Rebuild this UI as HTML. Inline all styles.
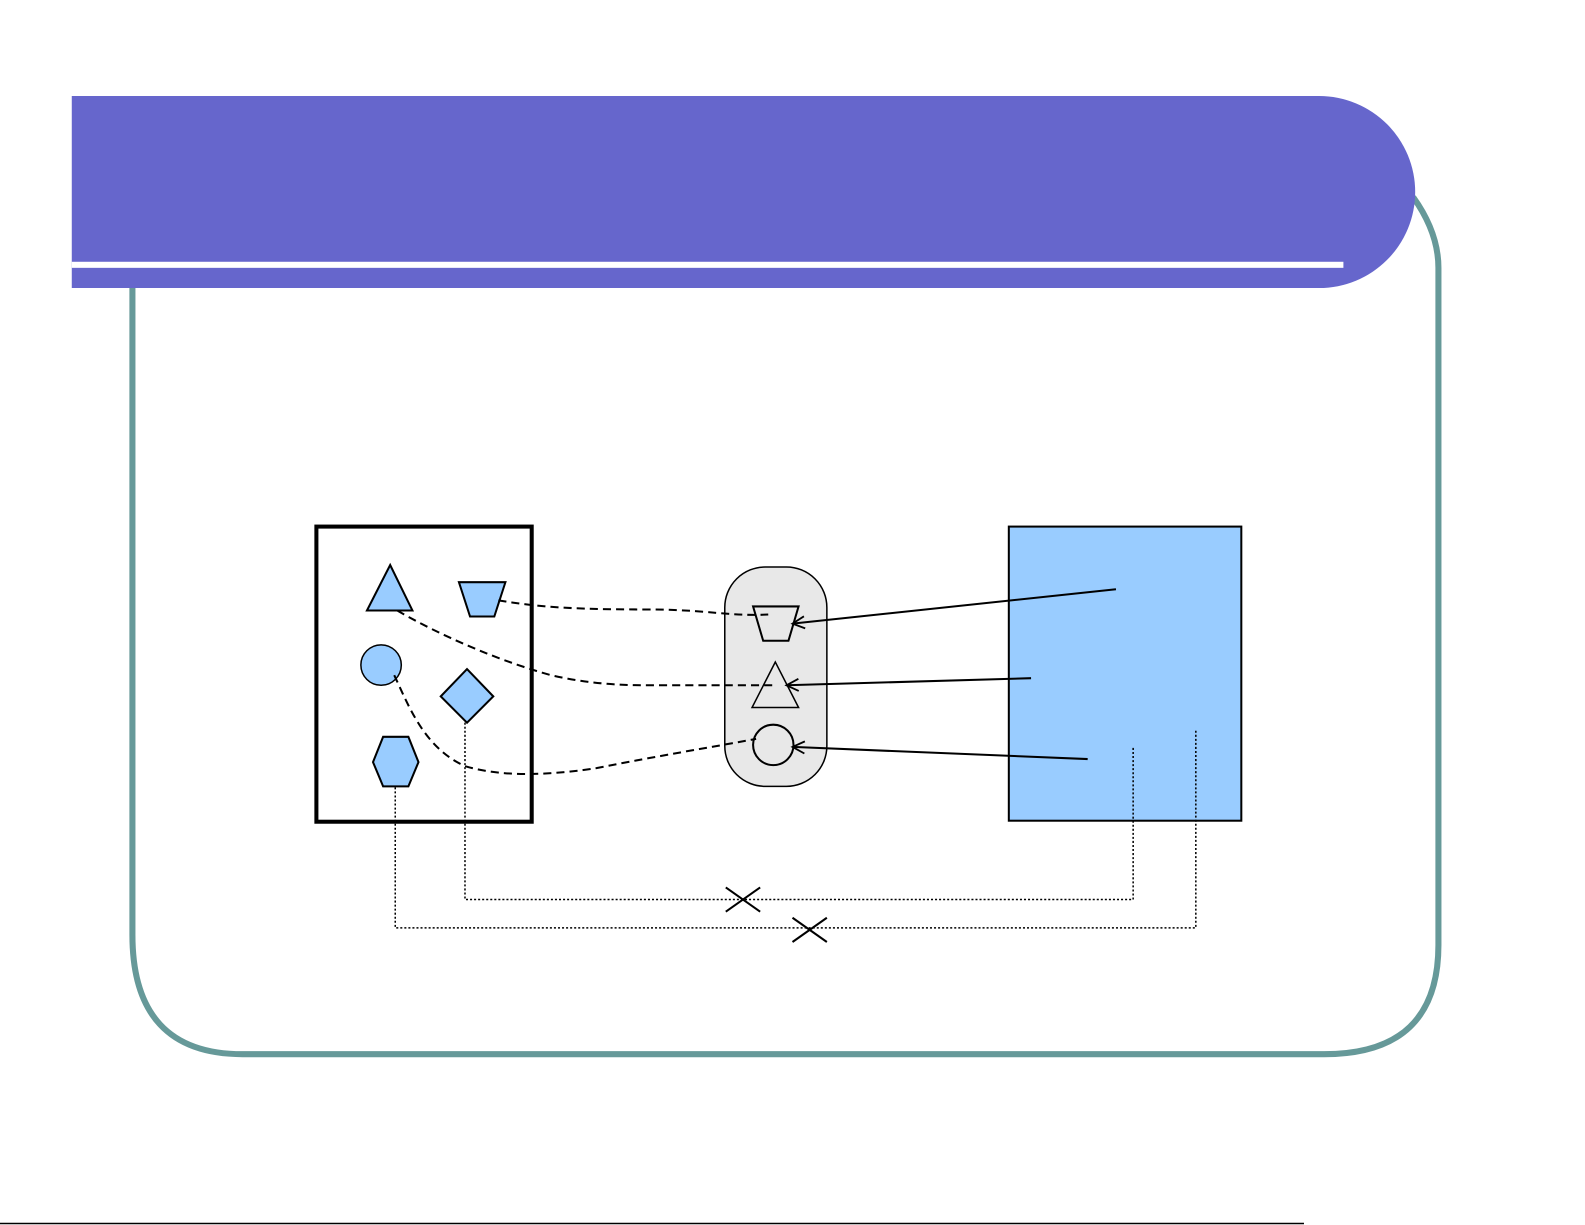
<!DOCTYPE html>
<html><head><meta charset="utf-8"><style>
html,body{margin:0;padding:0;background:#fff;width:1585px;height:1225px;overflow:hidden}
svg{display:block}
</style></head><body>
<svg width="1585" height="1225" viewBox="0 0 1568 1212" preserveAspectRatio="none" xmlns="http://www.w3.org/2000/svg">
<defs>
<marker id="ah" markerWidth="16" markerHeight="16" refX="13" refY="7" orient="auto" markerUnits="userSpaceOnUse">
<path d="M1,1 L13,7 L1,13" fill="none" stroke="#000" stroke-width="1.8"/>
</marker>
</defs>
<path d="M131,285 L131,925 Q131,1043 240,1043 L1310,1043 Q1423,1043 1423,935 L1423,265 Q1423,230 1398,195" fill="none" stroke="#669999" stroke-width="6"/>
<path d="M71,95 L1305,95 A95,95 0 0 1 1305,285 L71,285 Z" fill="#6666CC"/>
<rect x="71" y="259" width="1258" height="6" fill="#fff"/>
<rect x="313" y="521" width="213" height="292" fill="#fff" stroke="#000" stroke-width="4"/>
<rect x="998" y="521" width="230" height="291" fill="#99CCFF" stroke="#000" stroke-width="2"/>
<rect x="717" y="561" width="101" height="217" rx="40" ry="40" fill="#e8e8e8" stroke="#000" stroke-width="1.5"/>
<polygon points="386,559 363,604 408,604" fill="#99CCFF" stroke="#000" stroke-width="2"/>
<polygon points="454,576 500,576 489,610 465,610" fill="#99CCFF" stroke="#000" stroke-width="2"/>
<circle cx="377" cy="658" r="20" fill="#99CCFF" stroke="#000" stroke-width="1.5"/>
<polygon points="462,662 488,689 462,715 436,689" fill="#99CCFF" stroke="#000" stroke-width="2"/>
<polygon points="379,729 404,729 414,754 404,778 379,778 369,754" fill="#99CCFF" stroke="#000" stroke-width="2"/>
<polygon points="745,600 790,600 780,634 755,634" fill="none" stroke="#000" stroke-width="2"/>
<polygon points="767,655 744,700 790,700" fill="none" stroke="#000" stroke-width="1.5"/>
<circle cx="765" cy="737" r="20" fill="none" stroke="#000" stroke-width="2"/>
<g fill="none" stroke="#000" stroke-width="2" stroke-dasharray="8,5">
<path d="M493,594 C530,600 560,603 640,603 C700,603 720,610 760,608"/>
<path d="M393,604 C420,620 480,650 545,668 C580,676 610,678 640,678 L765,678"/>
<path d="M390,668 C405,700 420,740 460,758 C500,770 550,766 590,760 C650,748 700,740 748,731"/>
</g>
<g stroke="#000" stroke-width="2" fill="none">
<line x1="1104" y1="583" x2="784" y2="617" marker-end="url(#ah)"/>
<line x1="1020" y1="671" x2="778" y2="678" marker-end="url(#ah)"/>
<line x1="1076" y1="751" x2="784" y2="739" marker-end="url(#ah)"/>
</g>
<g fill="none" stroke="#000" stroke-width="1.5" stroke-dasharray="2,2">
<path d="M391,779 L391,918 L1183,918 L1183,722"/>
<path d="M460,715 L460,890 L1121,890 L1121,740"/>
</g>
<g stroke="#000" stroke-width="2">
<line x1="718" y1="878" x2="752" y2="902"/><line x1="718" y1="902" x2="752" y2="878"/>
<line x1="784" y1="908" x2="818" y2="932"/><line x1="784" y1="932" x2="818" y2="908"/>
</g>
<line x1="0" y1="1210.5" x2="1290" y2="1210.5" stroke="#000" stroke-width="1.5"/>
</svg>
</body></html>
